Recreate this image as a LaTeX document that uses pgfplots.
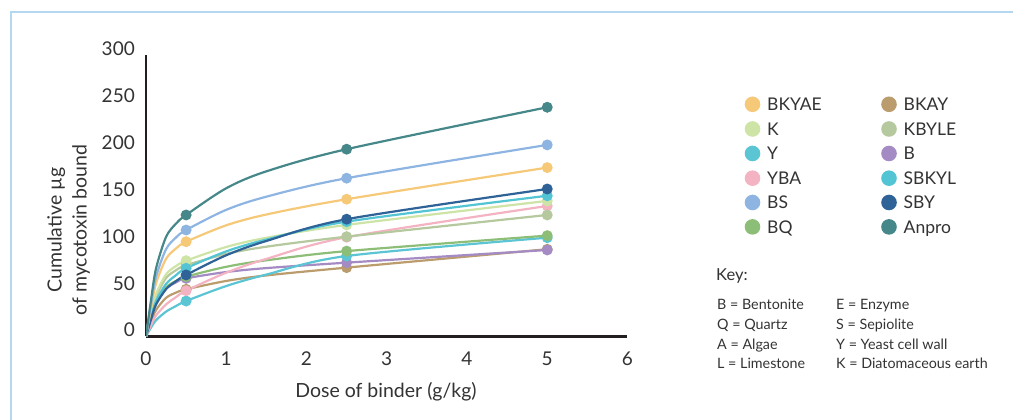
\documentclass[border=0pt]{standalone}
\usepackage{pgfplots}
\pgfplotsset{compat=1.18}
\usepackage{fontspec}
\setmainfont{Lato}
\definecolor{txt}{HTML}{333333}
\definecolor{axc}{HTML}{231F20}
\definecolor{frame}{HTML}{B4D8F0}
\definecolor{cBKYAE}{HTML}{F6C978}
\definecolor{cK}{HTML}{CDE4A6}
\definecolor{cY}{HTML}{5BC5D4}
\definecolor{cYBA}{HTML}{F4B3C2}
\definecolor{cBS}{HTML}{8EB5E2}
\definecolor{cBQ}{HTML}{8DBE78}
\definecolor{cBKAY}{HTML}{BB9C6C}
\definecolor{cKBYLE}{HTML}{B6C89D}
\definecolor{cB}{HTML}{A58BC4}
\definecolor{cSBKYL}{HTML}{52C4D3}
\definecolor{cSBY}{HTML}{2F6398}
\definecolor{cAnpro}{HTML}{468889}
\begin{document}
\begin{tikzpicture}[x=1pt,y=1pt]
\useasboundingbox (0,0) rectangle (1013,420);
% frame
\draw[frame, line width=1.5pt] (11,0) -- (11,408) -- (1013,408);
\begin{axis}[
  at={(146pt,83.5pt)}, anchor=south west,
  scale only axis, width=481.5pt, height=281.5pt,
  xmin=0, xmax=6, ymin=0, ymax=300,
  axis lines*=left,
  axis line style={line width=2.5pt, color=axc},
  xtick={0,1,2,3,4,5,6}, ytick={0,50,100,150,200,250,300},
  major tick length=0pt,
  /pgf/number format/assume math mode=true,
  tick label style={font=\fontsize{19}{22}\selectfont, text=txt, inner sep=0pt},
  xticklabel style={anchor=base, yshift=-29pt},
  yticklabel style={anchor=base east, xshift=-11pt, yshift=-0.5pt},
  every axis plot/.append style={smooth, line width=2.2pt, mark=*, mark size=4.3pt, mark indices={6,9,10}, mark options={solid}},
]
\addplot[cBKAY] coordinates {(0,0)(0.0625,15.1)(0.125,28.2)(0.25,41.2)(0.375,46.8)(0.5,50.3)(1,59.2)(1.5,65.1)(2.5,73.4)(5,93)};
\addplot[cB] coordinates {(0,0)(0.0625,18.6)(0.125,34.7)(0.25,50.8)(0.375,57.7)(0.5,62)(1,68.7)(1.5,72.9)(2.5,78.7)(5,92.2)};
\addplot[cY] coordinates {(0,0)(0.0625,9.5)(0.125,17.4)(0.25,26.5)(0.375,32.5)(0.5,37.8)(1,53.8)(1.5,66)(2.5,85.8)(5,105.3)};
\addplot[cBQ] coordinates {(0,0)(0.0625,19.1)(0.125,35.7)(0.25,52.3)(0.375,59.3)(0.5,63.8)(1,74.3)(1.5,81.2)(2.5,91)(5,107.5)};
\addplot[cYBA] coordinates {(0,0)(0.0625,12.2)(0.125,22.4)(0.25,34.2)(0.375,42)(0.5,48.8)(1,68)(1.5,82.7)(2.5,105.8)(5,139.1)};
\addplot[cKBYLE] coordinates {(0,0)(0.0625,22.8)(0.125,42.6)(0.25,62.3)(0.375,70.7)(0.5,76)(1,88)(1.5,95.7)(2.5,106.4)(5,129.5)};
\addplot[cK] coordinates {(0,0)(0.0625,24.2)(0.125,45.2)(0.25,66.3)(0.375,75.1)(0.5,80.8)(1,95.4)(1.5,105.2)(2.5,118.9)(5,144.5)};
\addplot[cSBKYL] coordinates {(0,0)(0.0625,20.4)(0.125,37.8)(0.25,56)(0.375,65.4)(0.5,72.7)(1,90.7)(1.5,103.3)(2.5,122.4)(5,150)};
\addplot[cSBY] coordinates {(0,0)(0.0625,18.4)(0.125,34.1)(0.25,50.5)(0.375,59)(0.5,65.6)(1,86.6)(1.5,101.8)(2.5,125)(5,157.2)};
\addplot[cBKYAE] coordinates {(0,0)(0.0625,30.3)(0.125,56.6)(0.25,82.8)(0.375,93.9)(0.5,101)(1,118.5)(1.5,130)(2.5,146.3)(5,180)};
\addplot[cBS] coordinates {(0,0)(0.0625,34.1)(0.125,63.6)(0.25,93.1)(0.375,105.6)(0.5,113.5)(1,135)(1.5,149)(2.5,168.7)(5,204.2)};
\addplot[cAnpro] coordinates {(0,0)(0.0625,38.9)(0.125,72.5)(0.25,106.2)(0.375,120.4)(0.5,129.5)(1,158)(1.5,176)(2.5,199.6)(5,244.3)};
\end{axis}
% axis labels
\node[anchor=base, text=txt, font=\fontsize{19.5}{23}\selectfont, inner sep=0pt] at (386,22) {Dose of binder (g/kg)};
\node[anchor=base, rotate=90, text=txt, font=\fontsize{19.5}{23}\selectfont, inner sep=0pt] at (61.5,190) {Cumulative µg};
\node[anchor=base, rotate=90, text=txt, font=\fontsize{19.5}{23}\selectfont, inner sep=0pt] at (86.5,190) {of mycotoxin bound};
% legend
\begin{scope}[every node/.style={anchor=base west, text=txt, font=\fontsize{17.5}{20}\selectfont, inner sep=0pt}]
\foreach \c/\t/\yy in {cBKYAE/BKYAE/104.3, cK/K/129.0, cY/Y/153.5, cYBA/YBA/178.2, cBS/BS/202.5, cBQ/BQ/226.9}{
  \fill[\c] (752.5,420-\yy) circle (7.8);
  \node at (767,420-\yy-6.3) {\t};
}
\foreach \c/\t/\yy in {cBKAY/BKAY/104.3, cKBYLE/KBYLE/129.0, cB/B/153.5, cSBKYL/SBKYL/178.2, cSBY/SBY/202.5, cAnpro/Anpro/226.9}{
  \fill[\c] (889,420-\yy) circle (7.8);
  \node at (903.5,420-\yy-6.3) {\t};
}
\end{scope}
% key
\node[anchor=base west, text=txt, font=\fontsize{16.5}{19}\selectfont, inner sep=0pt] at (716,139.3) {Key:};
\begin{scope}[every node/.style={anchor=base west, text=txt, font=\fontsize{14.3}{16}\selectfont, inner sep=0pt}]
\node at (717,110) {B = Bentonite};
\node at (717,90.5) {Q = Quartz};
\node at (717,70.7) {A = Algae};
\node at (717,51) {L = Limestone};
\node at (836,110) {E = Enzyme};
\node at (836,90.5) {S = Sepiolite};
\node at (836,70.7) {Y = Yeast cell wall};
\node at (836,51) {K = Diatomaceous earth};
\end{scope}
\end{tikzpicture}
\end{document}
